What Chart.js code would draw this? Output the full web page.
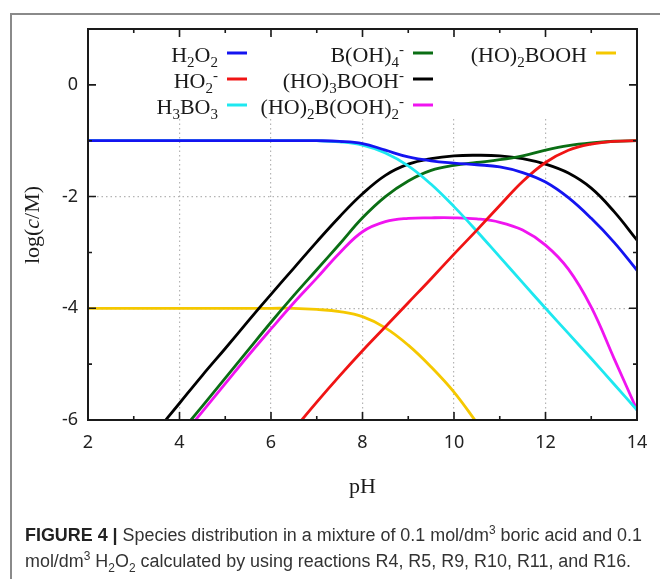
<!DOCTYPE html>
<html>
<head>
<meta charset="utf-8">
<script src="https://cdn.jsdelivr.net/npm/chart.js@4.4.1/dist/chart.umd.min.js"></script>
<style>
  html, body { margin: 0; padding: 0; background: #fff; }
  body { width: 660px; height: 579px; position: relative; overflow: hidden; }
  #frame { position: absolute; left: 10px; top: 13px; width: 700px; height: 700px;
           border-top: 2px solid #8a8a8a; border-left: 2px solid #8a8a8a; }
  #wrap { position: absolute; left: 0; top: 0; width: 660px; height: 579px; }
  #caption { position: absolute; left: 25px; top: 522px; font-family: "Liberation Sans Narrow", "Liberation Sans", Arial, sans-serif;
             font-size: 18px; line-height: 26px; color: #333; white-space: nowrap; transform-origin: 0 0; }
  #caption b { color: #222; }
  #caption sup, #caption sub { font-size: 12px; line-height: 0; }
</style>
</head>
<body>
<div id="frame"></div>
<div id="wrap"><canvas id="chart" width="660" height="579"></canvas></div>
<div id="caption">
  <div id="cap1"><b>FIGURE 4 |</b> Species distribution in a mixture of 0.1 mol/dm<sup>3</sup> boric acid and 0.1</div>
  <div id="cap2">mol/dm<sup>3</sup> H<sub>2</sub>O<sub>2</sub> calculated by using reactions R4, R5, R9, R10, R11, and R16.</div>
</div>
<script>
// pH grid shared by every series
var pH = [2, 2.5, 3, 3.5, 4, 4.5, 5, 5.5, 6, 6.5, 7, 7.5, 8, 8.5, 9, 9.5, 10, 10.5, 11, 11.5, 12, 12.5, 13, 13.5, 14];

// log(c/M)
var h2o2     = [-1, -1, -1, -1, -1, -1, -1, -1, -1, -1, -1, -1.01, -1.05, -1.17, -1.29, -1.36, -1.4, -1.43, -1.47, -1.57, -1.74, -2.02, -2.39, -2.82, -3.32];
var ho2      = [null, null, null, null, null, null, null, null, -6.68, -6.17, -5.68, -5.21, -4.76, -4.33, -3.9, -3.47, -3.03, -2.6, -2.16, -1.73, -1.39, -1.17, -1.06, -1.01, -1.0];
var h3bo3    = [-1, -1, -1, -1, -1, -1, -1, -1, -1, -1, -1, -1.02, -1.08, -1.22, -1.45, -1.78, -2.18, -2.62, -3.08, -3.54, -4.0, -4.45, -4.9, -5.36, -5.82];
var boh4     = [-8.25, -7.75, -7.25, -6.75, -6.25, -5.75, -5.25, -4.75, -4.25, -3.77, -3.31, -2.85, -2.38, -2.0, -1.72, -1.53, -1.44, -1.39, -1.34, -1.27, -1.17, -1.09, -1.04, -1.01, -1.0];
var ho3booh  = [-7.7, -7.2, -6.7, -6.2, -5.7, -5.2, -4.72, -4.23, -3.75, -3.28, -2.81, -2.36, -1.95, -1.62, -1.42, -1.32, -1.27, -1.26, -1.27, -1.32, -1.42, -1.58, -1.85, -2.27, -2.78];
var ho2booh2 = [-8.35, -7.85, -7.35, -6.85, -6.35, -5.85, -5.35, -4.85, -4.37, -3.9, -3.46, -3.01, -2.63, -2.45, -2.39, -2.38, -2.38, -2.4, -2.46, -2.6, -2.87, -3.3, -3.98, -4.9, -5.82];
var ho2booh  = [-4, -4, -4, -4, -4, -4, -4, -4, -4, -4, -4.02, -4.06, -4.15, -4.35, -4.66, -5.05, -5.5, -6.05, -6.6, null, null, null, null, null, null];

var seriesValues = [h2o2, ho2, h3bo3, boh4, ho3booh, ho2booh2, ho2booh];
var seriesNames = ['H2O2', 'HO2-', 'H3BO3', 'B(OH)4-', '(HO)3BOOH-', '(HO)2B(OOH)2-', '(HO)2BOOH'];
// legend text: _x = subscript, ^x = superscript
var legendLabels = ['H_2O_2', 'HO_2^-', 'H_3BO_3', 'B(OH)_4^-', '(HO)_3BOOH^-', '(HO)_2B(OOH)_2^-', '(HO)_2BOOH'];
var seriesColors = ['#1414f0', '#f01414', '#1ee8f0', '#0a6e14', '#000000', '#f014f0', '#f5c800'];

var xTicks = [2, 4, 6, 8, 10, 12, 14];
var yTicks = [-6, -4, -2, 0];

var serif = '"Liberation Serif", "DejaVu Serif", serif';

function richParts(str) {
    var parts = [];
    for (var i = 0; i < str.length; i++) {
        var c = str[i];
        if (c === '_' || c === '^') {
            parts.push({ t: str[i + 1], mode: c === '_' ? 'sub' : 'sup' });
            i++;
        } else if (parts.length && parts[parts.length - 1].mode === 'n') {
            parts[parts.length - 1].t += c;
        } else {
            parts.push({ t: c, mode: 'n' });
        }
    }
    return parts;
}

function drawRich(ctx, str, xRight, y, size) {
    var parts = richParts(str);
    var w = 0;
    parts.forEach(function(p) {
        ctx.font = (p.mode === 'n' ? size : Math.round(size * 0.68)) + 'px ' + serif;
        p.w = ctx.measureText(p.t).width;
        w += p.w;
    });
    var x = xRight - w;
    parts.forEach(function(p) {
        ctx.font = (p.mode === 'n' ? size : Math.round(size * 0.68)) + 'px ' + serif;
        var dy = p.mode === 'sub' ? 5 : (p.mode === 'sup' ? -8 : 0);
        ctx.fillText(p.t, x, y + dy);
        x += p.w;
    });
}

var plotDecor = {
    id: 'plotDecor',
    beforeDatasetsDraw: function(chart) {
        // the key box hides the grid under it
        var a = chart.chartArea, ctx = chart.ctx;
        ctx.save();
        ctx.fillStyle = '#fff';
        ctx.fillRect(a.left + 10, a.top + 8, a.right - a.left - 20, 81);
        ctx.restore();
    },
    afterDatasetsDraw: function(chart) {
        var a = chart.chartArea, ctx = chart.ctx;
        var xs = chart.scales.x, ys = chart.scales.y;
        ctx.save();
        ctx.strokeStyle = '#1a1a1a';
        ctx.lineWidth = 1.6;
        ctx.beginPath();
        // inward ticks on all four sides
        for (var v = 2; v <= 14; v++) {
            var px = xs.getPixelForValue(v);
            var len = v % 2 === 0 ? 8 : 4;
            ctx.moveTo(px, a.bottom); ctx.lineTo(px, a.bottom - len);
            ctx.moveTo(px, a.top); ctx.lineTo(px, a.top + len);
        }
        for (var u = -6; u <= 0; u++) {
            var py = ys.getPixelForValue(u);
            var l2 = u % 2 === 0 ? 8 : 4;
            ctx.moveTo(a.left, py); ctx.lineTo(a.left + l2, py);
            ctx.moveTo(a.right, py); ctx.lineTo(a.right - l2, py);
        }
        ctx.stroke();
        ctx.lineWidth = 2;
        ctx.strokeRect(a.left, a.top, a.right - a.left, a.bottom - a.top);
        ctx.restore();
    },
    afterDraw: function(chart) {
        var ctx = chart.ctx;
        ctx.save();
        ctx.textBaseline = 'alphabetic';
        var colRight = [218, 404, 587];
        var rowBase = [62, 88, 114];
        legendLabels.forEach(function(lab, i) {
            var col = Math.floor(i / 3), row = i % 3;
            var xr = colRight[col], yb = rowBase[row];
            ctx.fillStyle = '#1a1a1a';
            drawRich(ctx, lab, xr, yb, 22);
            ctx.strokeStyle = seriesColors[i];
            ctx.lineWidth = 3;
            ctx.beginPath();
            ctx.moveTo(xr + 9, yb - 9);
            ctx.lineTo(xr + 29, yb - 9);
            ctx.stroke();
        });
        // y axis title with italic c
        var parts = [['log(', ''], ['c', 'italic '], ['/M)', '']];
        ctx.translate(33, 225);
        ctx.rotate(-Math.PI / 2);
        ctx.textBaseline = 'middle';
        var w = 0;
        parts.forEach(function(p) { ctx.font = p[1] + '22px ' + serif; w += ctx.measureText(p[0]).width; });
        var x = -w / 2;
        ctx.fillStyle = '#1a1a1a';
        parts.forEach(function(p) {
            ctx.font = p[1] + '22px ' + serif;
            ctx.fillText(p[0], x, 0);
            x += ctx.measureText(p[0]).width;
        });
        ctx.restore();
    }
};

var datasets = seriesValues.map(function(vals, i) {
    return {
        label: seriesNames[i],
        data: pH.map(function(p, k) { return { x: p, y: vals[k] }; }),
        borderColor: seriesColors[i],
        backgroundColor: seriesColors[i],
        borderWidth: 2.8,
        pointRadius: 0,
        tension: 0.4,
        spanGaps: false,
        fill: false
    };
});

function gridColor(ends) {
    return function(c) {
        return ends.indexOf(c.tick.value) >= 0 ? 'rgba(0,0,0,0)' : '#b4b4b4';
    };
}

new Chart(document.getElementById('chart'), {
    type: 'line',
    data: { datasets: datasets },
    options: {
        responsive: false,
        animation: false,
        layout: { padding: { left: 0, top: 29, right: 23, bottom: 0 } },
        plugins: { legend: { display: false }, tooltip: { enabled: false } },
        scales: {
            x: {
                type: 'linear',
                min: 2,
                max: 14,
                afterBuildTicks: function(s) { s.ticks = xTicks.map(function(v) { return { value: v }; }); },
                afterFit: function(s) { s.height = 159; },
                ticks: { padding: 12, color: '#222', maxRotation: 0, autoSkip: false,
                         font: { family: '"Noto Sans", "DejaVu Sans", sans-serif', size: 18 } },
                grid: { drawTicks: false, color: gridColor([2, 14]), lineWidth: 1.2 },
                border: { display: false, dash: [1.5, 3] },
                title: { display: true, text: 'pH', color: '#1a1a1a', padding: { top: 0, bottom: 79 },
                         font: { family: serif, size: 22 } }
            },
            y: {
                type: 'linear',
                min: -6,
                max: 1,
                afterBuildTicks: function(s) { s.ticks = yTicks.map(function(v) { return { value: v }; }); },
                afterFit: function(s) { s.width = 88; },
                ticks: { padding: 10, color: '#222',
                         font: { family: '"Noto Sans", "DejaVu Sans", sans-serif', size: 18 } },
                grid: { drawTicks: false, color: gridColor([-6, 0]), lineWidth: 1.2 },
                border: { display: false, dash: [1.5, 3] }
            }
        }
    },
    plugins: [plotDecor]
});

// squeeze the caption to the column width of the figure
var cap = document.getElementById('caption');
var c1 = document.getElementById('cap1');
var range = document.createRange();
range.selectNodeContents(c1);
var w1 = range.getBoundingClientRect().width;
cap.style.transform = 'scaleX(' + (617 / w1) + ')';
</script>
</body>
</html>
